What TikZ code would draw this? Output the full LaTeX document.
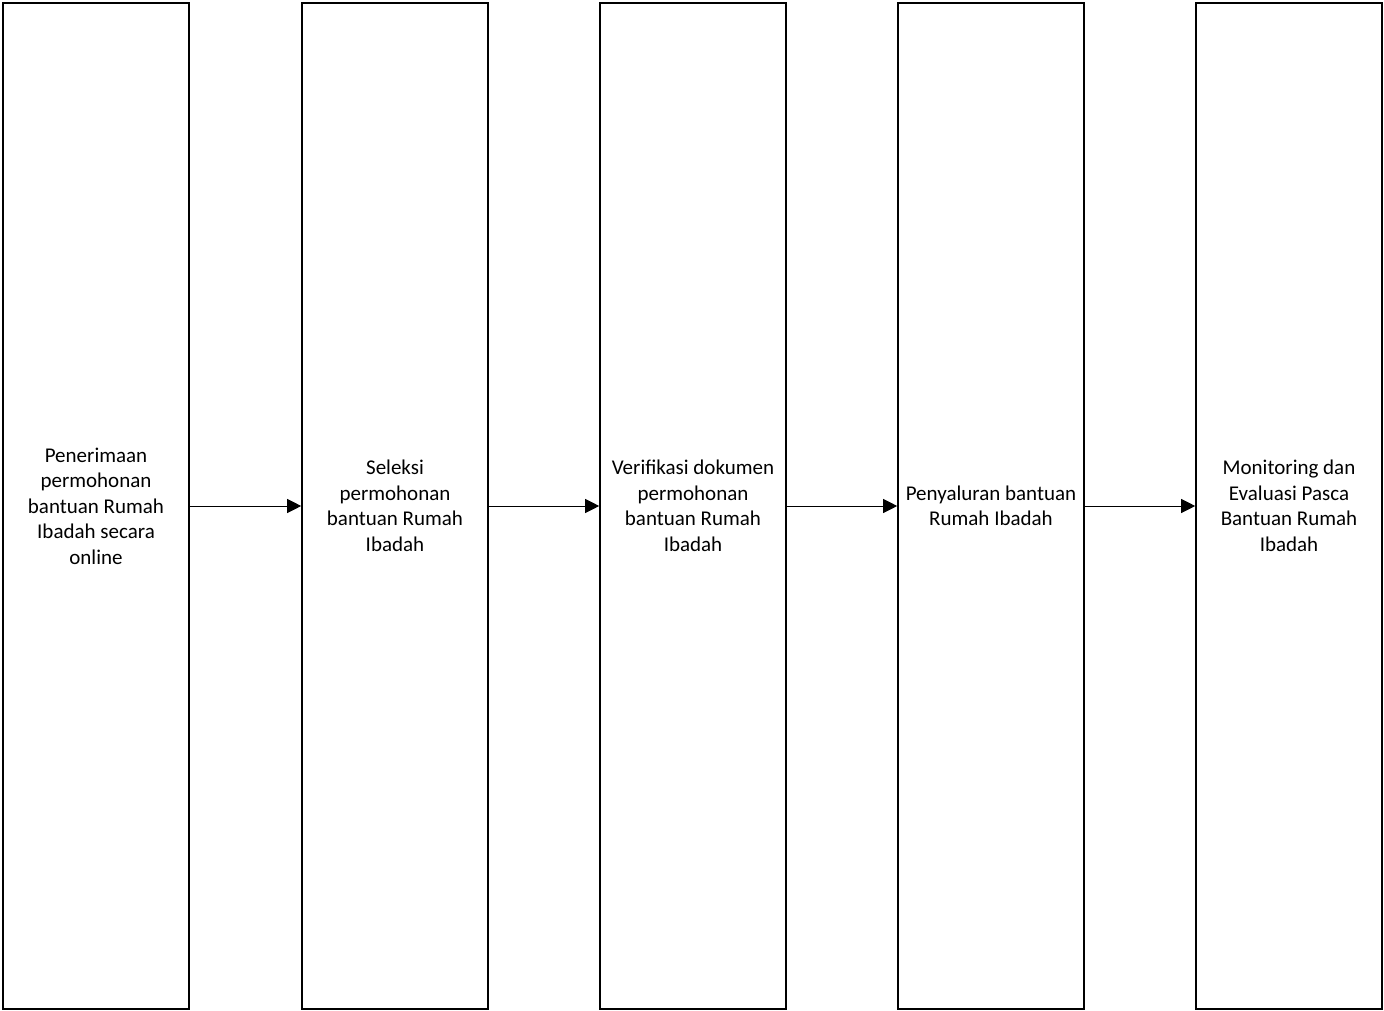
\documentclass[tikz,border=0pt]{standalone}
\usepackage{fontspec}
\setmainfont{Carlito}
\usetikzlibrary{arrows.meta}
\tikzset{
 stage/.style={draw,line width=1.6pt,minimum width=186pt,minimum height=1006pt,
  inner sep=0pt,align=center,font=\fontsize{21}{25.5}\selectfont},
 flow/.style={line width=0.8pt,-{Triangle[length=14pt,width=14pt]}}
}
\begin{document}
\begin{tikzpicture}[x=1pt,y=-1pt]
 \useasboundingbox (0,0) rectangle (1384,1011);
 \node[stage] (terima) at (96,506) {Penerimaan\\permohonan\\bantuan Rumah\\Ibadah secara\\online};
 \node[stage] (seleksi) at (395,506) {Seleksi\\permohonan\\bantuan Rumah\\Ibadah};
 \node[stage] (verif) at (693,506) {Verifikasi dokumen\\permohonan\\bantuan Rumah\\Ibadah};
 \node[stage] (salur) at (991,506) {Penyaluran bantuan\\Rumah Ibadah};
 \node[stage] (monev) at (1289,506) {Monitoring dan\\Evaluasi Pasca\\Bantuan Rumah\\Ibadah};
 \draw[flow] (terima) -- (seleksi);
 \draw[flow] (seleksi) -- (verif);
 \draw[flow] (verif) -- (salur);
 \draw[flow] (salur) -- (monev);
\end{tikzpicture}
\end{document}
